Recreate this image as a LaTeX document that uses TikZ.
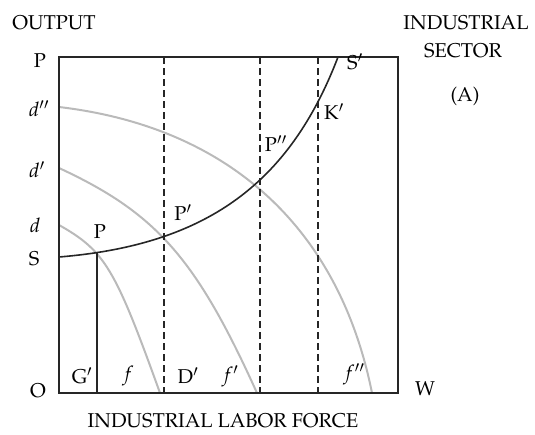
\documentclass[tikz,border=0pt]{standalone}
\usepackage[T1]{fontenc}
\usepackage{mathpazo}
\begin{document}
\begin{tikzpicture}[x=1pt,y=-1pt,
        lbl/.style={font=\fontsize{20}{24}\selectfont, inner sep=0pt},
        frame/.style={line width=1.6pt, black!85},
        supply/.style={line width=1.6pt, black!85},
        prodfn/.style={line width=2pt, black!27},
        guide/.style={line width=1.4pt, black!85, dash pattern=on 7pt off 4pt}]
        \useasboundingbox (0,0) rectangle (535,434);
        % corners of the box
        \coordinate (O) at (59,393);\coordinate (Ptop) at (59,57);
        \coordinate (NE) at (398,57);\coordinate (W) at (398,393);
        % production curves d f, d' f', d'' f''
        \coordinate (d0) at (59,225);\coordinate (f0) at (160,393);
        \coordinate (d1) at (59,168);\coordinate (f1) at (257,393);
        \coordinate (d2) at (59,107);\coordinate (f2) at (372,393);
        \draw[prodfn] (d0) .. controls (105,251) and (115,268) .. (f0);
        \draw[prodfn] (d1) .. controls (156,213) and (196,258) .. (f1);
        \draw[prodfn] (d2) .. controls (229,127) and (339,228) .. (f2);
        % supply curve S S'
        \coordinate (S) at (59,257);\coordinate (S2) at (338,57);
        \draw[supply] (S) .. controls (205,245) and (289,185) .. (S2);
        % employment lines
        \coordinate (Gtop) at (97,252);\coordinate (G) at (97,393);
        \draw[supply] (G) -- (Gtop);
        \draw[guide] (164,57) -- (164,393);
        \draw[guide] (260,57) -- (260,393);
        \draw[guide] (318,57) -- (318,393);
        \draw[frame] (Ptop) -- (O) -- (W) -- (NE) -- cycle;
        % labels
        \node[lbl] (out) at (54,23) {OUTPUT};
        \node[lbl] (ind) at (466,23) {INDUSTRIAL};
        \node[lbl] (sec) at (463,51) {SECTOR};
        \node[lbl] (A) at (465,96) {(A)};
        \node[lbl] (lP) at (40,61) {P};
        \node[lbl] (ld2) at (39,109) {$d''$};
        \node[lbl] (ld1) at (37,170) {$d'$};
        \node[lbl] (ld0) at (35,225) {$d$};
        \node[lbl] (lS) at (34,259) {S};
        \node[lbl] (lO) at (38,391) {O};
        \node[lbl] (lW) at (425,389) {W};
        \node[lbl] (lPa) at (100,232) {P};
        \node[lbl] (lPb) at (183,213) {P$'$};
        \node[lbl] (lPc) at (276,144) {P$''$};
        \node[lbl] (lK) at (334,112) {K$'$};
        \node[lbl] (lS2) at (355,62) {S$'$};
        \node[lbl] (lG) at (82,376) {G$'$};
        \node[lbl] (lf0) at (128,376) {$f$};
        \node[lbl] (lD) at (188,376) {D$'$};
        \node[lbl] (lf1) at (230,376) {$f'$};
        \node[lbl] (lf2) at (354,374) {$f''$};
        \node[lbl] (xlab) at (223,421) {INDUSTRIAL LABOR FORCE};
\end{tikzpicture}
\end{document}
